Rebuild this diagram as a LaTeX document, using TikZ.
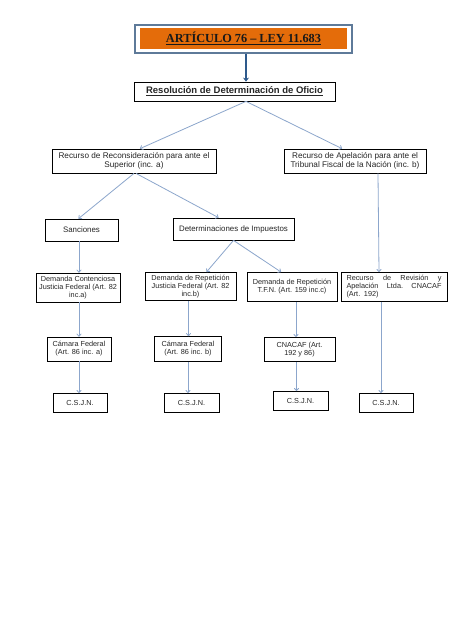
\documentclass[tikz,border=0pt]{standalone}
\usepackage{fontspec}
\setmainfont{Liberation Sans}
\newfontfamily\titlefont{Liberation Serif}
\usetikzlibrary{arrows.meta,calc}
\definecolor{orangefill}{HTML}{E46C0A}
\definecolor{titleborder}{HTML}{5E7A99}
\definecolor{darkarrow}{HTML}{2E5A8C}
\definecolor{linkblue}{HTML}{8CA6CC}
\tikzset{
  box/.style={draw=black, line width=0.75pt, fill=white, inner sep=0.5pt, align=center,
    font=\fontsize{7.3}{8.1}\selectfont, text=black!85},
  bigbox/.style={box, font=\fontsize{8.2}{9.5}\selectfont},
  midbox/.style={box, font=\fontsize{7.9}{9}\selectfont},
  link/.style={draw=linkblue, line width=0.8pt, -{To[length=3pt,width=5pt]}},
}
\begin{document}
\begin{tikzpicture}[x=1pt,y=-1pt]
\useasboundingbox[fill=white] (0,0) rectangle (474,632);
% title
\node[draw=titleborder, line width=1.3pt, fill=white, minimum width=217pt, minimum height=28pt, inner sep=0pt] (title) at (243.5,39) {};
\node[fill=orangefill, minimum width=207pt, minimum height=21pt, inner sep=0pt,
  font=\titlefont\bfseries\fontsize{12.3}{14}\selectfont, text=black!90] (titletext) at (243.5,38.5) {\underline{ARTÍCULO 76 – LEY 11.683}};
% level 1
\node[box, minimum width=201pt, minimum height=19pt, font=\bfseries\fontsize{9.5}{10}\selectfont] (resol) at (234.5,91.5) {\underline{Resolución de Determinación de Oficio}};
% level 2
\node[bigbox, minimum width=164pt, minimum height=24pt] (recon) at (134,161) {Recurso de Reconsideración para ante el\\Superior (inc. a)};
\node[bigbox, minimum width=142pt, minimum height=24pt] (apel) at (355,161) {Recurso de Apelación para ante el\\Tribunal Fiscal de la Nación (inc. b)};
% level 3
\node[midbox, minimum width=73pt, minimum height=22pt] (sanc) at (81.5,230) {Sanciones};
\node[midbox, minimum width=121pt, minimum height=22pt] (det) at (233.5,229) {Determinaciones de Impuestos};
% level 4
\node[box, minimum width=84pt, minimum height=29pt] (dc) at (78,287.5) {Demanda Contenciosa\\Justicia Federal (Art. 82\\inc.a)};
\node[box, minimum width=91pt, minimum height=28pt, anchor=north] (drj) at (190.5,272) {Demanda de Repetición\\Justicia Federal (Art. 82\\inc.b)};
\node[box, minimum width=90pt, minimum height=29pt, anchor=north] (drt) at (292,272) {Demanda de Repetición\\T.F.N. (Art. 159 inc.c)};
\node[box, minimum width=106pt, minimum height=29pt, anchor=north, text width=95pt, align=left] (rev) at (394,272) {Recurso\hfill de\hfill Revisión\hfill y\\Apelación\hfill Ltda.\hfill CNACAF\\(Art. 192)};
% level 5
\node[box, minimum width=64pt, minimum height=24pt] (cfa) at (79,349) {Cámara Federal\\(Art. 86 inc. a)};
\node[box, minimum width=67pt, minimum height=25pt] (cfb) at (188,349) {Cámara Federal\\(Art. 86 inc. b)};
\node[box, minimum width=71pt, minimum height=24pt, anchor=north] (cna) at (299.5,337) {CNACAF (Art.\\192 y 86)};
% level 6
\node[box, minimum width=54pt, minimum height=19pt, anchor=north] (cs1) at (80,393) {C.S.J.N.};
\node[box, minimum width=55pt, minimum height=19pt, anchor=north] (cs2) at (191.5,393) {C.S.J.N.};
\node[box, minimum width=55pt, minimum height=19pt, anchor=north] (cs3) at (300.5,391) {C.S.J.N.};
\node[box, minimum width=54pt, minimum height=19pt, anchor=north] (cs4) at (386,393) {C.S.J.N.};
% thick arrow
\draw[draw=darkarrow, line width=2.6pt, -{Stealth[length=4pt,width=6pt]}] ($(title.south)+(2.5,0)$) -- ($(resol.north)+(11.5,0)$);
% links
\draw[link] ($(resol.south)+(11.5,0)$) -- ($(recon.north)+(6,0)$);
\draw[link] ($(resol.south)+(11.5,0)$) -- ($(apel.north)+(-13,0)$);
\draw[link] (recon.south) -- ($(sanc.north)+(-3,0)$);
\draw[link] ($(recon.south)+(2,0)$) -- ($(det.north)+(-15,0)$);
\draw[link] ($(apel.south)+(23,0)$) -- ($(rev.north)+(-15,0)$);
\draw[link] ($(sanc.south)+(-2.5,0)$) -- ($(dc.north)+(1,0)$);
\draw[link] (det.south) -- ($(drj.north)+(16,0)$);
\draw[link] (det.south) -- ($(drt.north)+(-11,0)$);
\draw[link] ($(dc.south)+(1,0)$) -- ($(cfa.north)+(0,0)$);
\draw[link] ($(drj.south)+(-2,0)$) -- ($(cfb.north)+(0.5,0)$);
\draw[link] ($(drt.south)+(4,0)$) -- ($(cna.north)+(-3.5,0)$);
\draw[link] (cfa.south) -- ($(cfa.south |- cs1.north)$);
\draw[link] (cfb.south) -- ($(cfb.south |- cs2.north)$);
\draw[link] ($(cna.south)+(-3,0)$) -- ($(cs3.north)+(-4,0)$);
\draw[link] ($(rev.south)+(-13,0)$) -- ($(cs4.north)+(-5,0)$);
\end{tikzpicture}
\end{document}
